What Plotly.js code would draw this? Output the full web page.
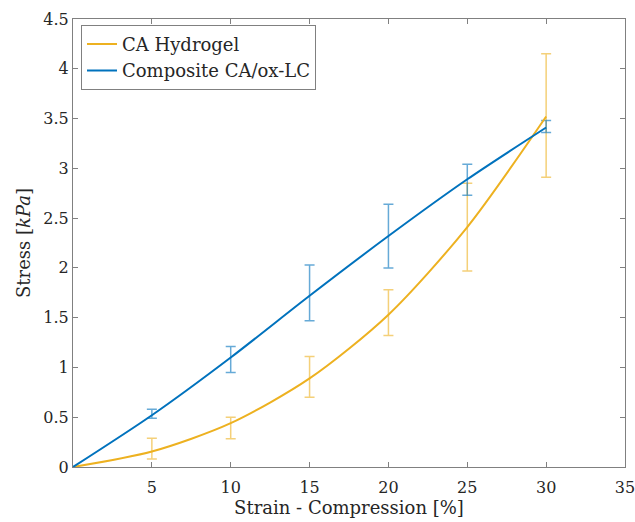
<!DOCTYPE html>
<html>
<head>
<meta charset="utf-8">
<script src="https://cdn.plot.ly/plotly-3.0.1.min.js"></script>
<style>html,body{margin:0;padding:0;background:#fff;}#chart{width:635px;height:522px;}</style>
</head>
<body>
<div id="chart"></div>
<script>
// fitted curves
const fitStrain = [0, 5, 10, 15, 20, 25, 30];
const fitHydrogel = [0, 0.155, 0.44, 0.89, 1.53, 2.41, 3.52];
const fitComposite = [0, 0.52, 1.10, 1.72, 2.32, 2.89, 3.41];

// measured points with error bars
const pointStrain = [5, 10, 15, 20, 25, 30];
const hydrogelHigh = [0.29, 0.50, 1.11, 1.78, 2.85, 4.15];
const hydrogelLow = [0.08, 0.285, 0.70, 1.32, 1.97, 2.91];
const compositeHigh = [0.58, 1.21, 2.03, 2.64, 3.04, 3.48];
const compositeLow = [0.49, 0.95, 1.47, 2.00, 2.73, 3.36];

const xTicks = [5, 10, 15, 20, 25, 30, 35];
const yTicks = [0, 0.5, 1, 1.5, 2, 2.5, 3, 3.5, 4, 4.5];

const yellow = '#EDB120';
const blue = '#0072BD';
const serif = 'DejaVu Serif';

function mid(hi, lo) { return hi.map((h, i) => (h + lo[i]) / 2); }
function half(hi, lo) { return hi.map((h, i) => (h - lo[i]) / 2); }

const traces = [
  {
    x: pointStrain, y: mid(hydrogelHigh, hydrogelLow), type: 'scatter', mode: 'markers',
    marker: {size: 1, opacity: 0, color: yellow}, showlegend: false, hoverinfo: 'skip',
    error_y: {type: 'data', array: half(hydrogelHigh, hydrogelLow), symmetric: true,
      color: 'rgba(237,177,32,0.6)', thickness: 1.5, width: 5}
  },
  {
    x: pointStrain, y: mid(compositeHigh, compositeLow), type: 'scatter', mode: 'markers',
    marker: {size: 1, opacity: 0, color: blue}, showlegend: false, hoverinfo: 'skip',
    error_y: {type: 'data', array: half(compositeHigh, compositeLow), symmetric: true,
      color: 'rgba(0,114,189,0.6)', thickness: 1.5, width: 5}
  },
  {
    x: fitStrain, y: fitHydrogel, type: 'scatter', mode: 'lines', name: 'CA Hydrogel',
    line: {color: yellow, width: 2, shape: 'spline', smoothing: 0.8}
  },
  {
    x: fitStrain, y: fitComposite, type: 'scatter', mode: 'lines', name: 'Composite CA/ox-LC',
    line: {color: blue, width: 2, shape: 'spline', smoothing: 0.8}
  }
];

const axisCommon = {
  showgrid: false, zeroline: false, showline: true, mirror: 'ticks',
  linecolor: '#808080', linewidth: 1, ticks: 'inside', ticklen: 5, tickcolor: '#808080',
  ticklabeloverflow: 'allow',
  tickfont: {family: serif, size: 16, color: '#262626'}
};

const layout = {
  width: 635, height: 522,
  margin: {l: 73, r: 10, t: 19, b: 55},
  paper_bgcolor: '#fff', plot_bgcolor: '#fff',
  font: {family: serif, color: '#262626'},
  xaxis: Object.assign({}, axisCommon, {
    range: [0, 35], tickvals: xTicks, ticktext: xTicks.map(String),
    ticklabelstandoff: 6,
    title: {text: 'Strain - Compression [%]', font: {family: serif, size: 18, color: '#262626'}, standoff: 2}
  }),
  yaxis: Object.assign({}, axisCommon, {
    range: [0, 4.5], tickvals: yTicks, ticktext: yTicks.map(String),
    title: {text: 'Stress [<i>kPa</i>]', font: {family: serif, size: 18, color: '#262626'}, standoff: 8}
  }),
  legend: {
    x: 0.0145, y: 0.987, xanchor: 'left', yanchor: 'top',
    bgcolor: '#fff', bordercolor: '#808080', borderwidth: 1,
    font: {family: serif, size: 18, color: '#262626'},
    itemwidth: 30, tracegroupgap: 0
  },
  showlegend: true
};

Plotly.newPlot('chart', traces, layout, {displayModeBar: false, staticPlot: true});
</script>
</body>
</html>
